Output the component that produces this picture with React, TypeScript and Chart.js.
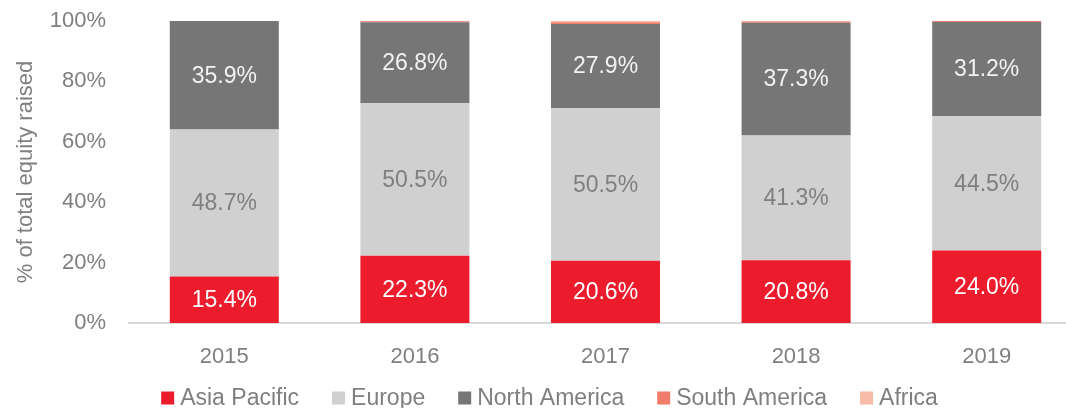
import React, { useEffect, useRef } from "react";
import { Chart, registerables } from "chart.js";

Chart.register(...registerables);

const years = ["2015", "2016", "2017", "2018", "2019"];
const asiaPacific = [15.4, 22.3, 20.6, 20.8, 24.0];
const europe = [48.7, 50.5, 50.5, 41.3, 44.5];
const northAmerica = [35.9, 26.8, 27.9, 37.3, 31.2];
const southAmerica = [0, 0.3, 0.6, 0.4, 0.3];
const africa = [0, 0.1, 0.4, 0.2, 0.0];
const yTicks = [0, 20, 40, 60, 80, 100];

const FONT = "'Liberation Sans', Arial, sans-serif";
const GREY_TEXT = "#7f7f7f";

const labelColors = ["#ffffff", "#7f7f7f", "#f2f2f2"];

const dataLabelPlugin = {
  id: "segLabels",
  afterDatasetsDraw(chart: any) {
    const ctx = chart.ctx;
    ctx.save();
    ctx.font = `23px ${FONT}`;
    ctx.textAlign = "center";
    ctx.textBaseline = "middle";
    for (let d = 0; d < 3; d++) {
      const meta = chart.getDatasetMeta(d);
      const ds = chart.data.datasets[d];
      meta.data.forEach((el: any, i: number) => {
        const v = ds.data[i] as number;
        const p = el.getProps(["x", "y", "base"], true);
        ctx.fillStyle = labelColors[d];
        ctx.fillText(v.toFixed(1) + "%", p.x, (p.y + p.base) / 2 + 1);
      });
    }
    ctx.restore();
  },
};

const legendPlugin = {
  id: "customLegend",
  afterDraw(chart: any) {
    const ctx = chart.ctx;
    ctx.save();
    ctx.font = `23px ${FONT}`;
    ctx.textBaseline = "middle";
    ctx.textAlign = "left";
    const box = 13;
    const gapBoxText = 6;
    const gapItems = 33;
    const items = chart.data.datasets.map((ds: any) => ({
      label: ds.label as string,
      color: ds.backgroundColor as string,
      w: ctx.measureText(ds.label).width,
    }));
    const total =
      items.reduce((s: number, it: any) => s + box + gapBoxText + it.w, 0) +
      gapItems * (items.length - 1);
    let x = 549.5 - total / 2;
    const cy = 398;
    items.forEach((it: any) => {
      ctx.fillStyle = it.color;
      ctx.fillRect(x, cy - box / 2, box, box);
      x += box + gapBoxText;
      ctx.fillStyle = GREY_TEXT;
      ctx.fillText(it.label, x, cy + 1);
      x += it.w + gapItems;
    });
    ctx.restore();
  },
};

export default function App() {
  const ref = useRef<HTMLCanvasElement>(null);
  useEffect(() => {
    if (!ref.current) return;
    const chart = new Chart(ref.current, {
      type: "bar",
      data: {
        labels: years,
        datasets: [
          { label: "Asia Pacific", data: asiaPacific, backgroundColor: "#ed1c2c" },
          { label: "Europe", data: europe, backgroundColor: "#d0d0d0" },
          { label: "North America", data: northAmerica, backgroundColor: "#767676" },
          { label: "South America", data: southAmerica, backgroundColor: "#f07c6c" },
          { label: "Africa", data: africa, backgroundColor: "#f7bba8" },
        ],
      },
      options: {
        responsive: false,
        animation: false,
        devicePixelRatio: 1,
        layout: { autoPadding: false, padding: { top: 21, left: 0, right: 9, bottom: 38 } },
        datasets: {
          bar: { barPercentage: 0.572, categoryPercentage: 1, borderWidth: 0 },
        },
        plugins: {
          tooltip: { enabled: false },
          legend: { display: false },
          title: { display: false },
        },
        scales: {
          x: {
            stacked: true,
            grid: { display: false, drawTicks: false },
            border: { display: true, color: "#d9d9d9", width: 2 },
            ticks: { color: GREY_TEXT, font: { family: FONT, size: 22 }, padding: 21 },
            afterFit(scale: any) {
              scale.height = 47;
              scale.paddingLeft = 0;
              scale.paddingRight = 0;
            },
          },
          y: {
            stacked: true,
            min: 0,
            max: 100,
            afterBuildTicks(scale: any) {
              scale.ticks = yTicks.map((v) => ({ value: v }));
            },
            afterFit(scale: any) {
              scale.width = 129;
              scale.paddingTop = 0;
              scale.paddingBottom = 0;
            },
            grid: { display: false, drawTicks: false },
            border: { display: false },
            ticks: {
              color: GREY_TEXT,
              font: { family: FONT, size: 22 },
              padding: 23,
              callback: (v: any) => v + "%",
            },
            title: {
              display: true,
              text: "% of total equity raised",
              color: GREY_TEXT,
              font: { family: FONT, size: 22 },
              padding: { top: 13, bottom: 0 },
            },
          },
        },
      },
      plugins: [dataLabelPlugin, legendPlugin],
    });
    return () => chart.destroy();
  }, []);
  return (
    <div style={{ position: "fixed", left: 0, top: 0, width: 1091, height: 408, overflow: "hidden", background: "#fff" }}>
      <canvas ref={ref} width={1091} height={408} style={{ width: 1091, height: 408, display: "block" }} />
    </div>
  );
}
